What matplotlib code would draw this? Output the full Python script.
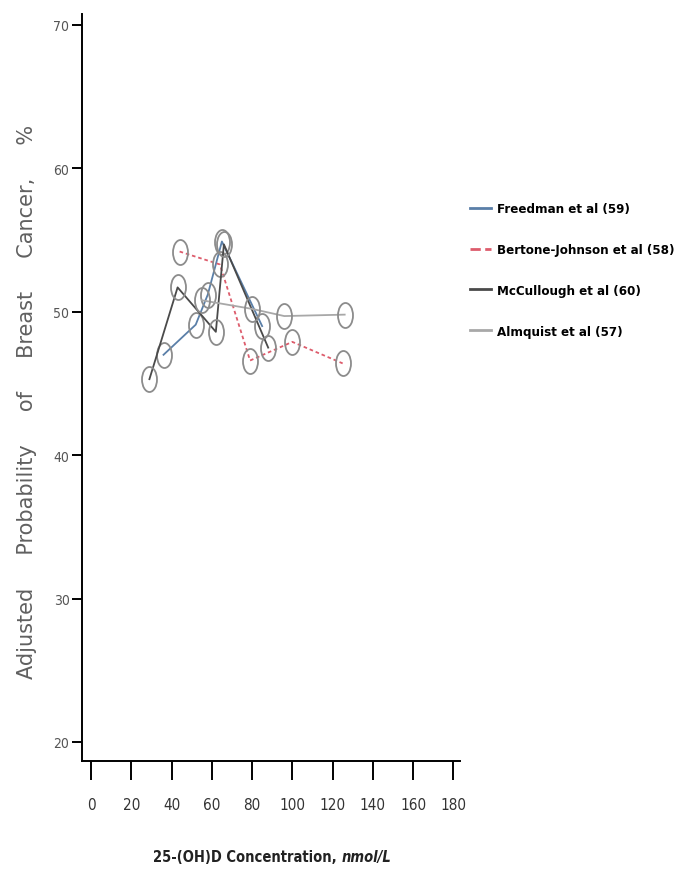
import matplotlib
matplotlib.use("Agg")
import matplotlib.pyplot as plt
from matplotlib.path import Path
from matplotlib.transforms import Affine2D
from matplotlib.offsetbox import TextArea, HPacker, AnchoredOffsetbox

plt.rcParams["font.family"] = ["DejaVu Sans"]
plt.rcParams["font.stretch"] = "condensed"

# 25-(OH)D concentration (nmol/L) and adjusted probability of breast cancer (%)
freedman_x = [36, 52, 58, 65, 85]
freedman_y = [47.0, 49.1, 51.2, 54.9, 49.0]

bertone_x = [44, 64, 79, 100, 125]
bertone_y = [54.2, 53.3, 46.6, 47.9, 46.4]

mccullough_x = [29, 43, 62, 66, 88]
mccullough_y = [45.3, 51.7, 48.6, 54.7, 47.5]

almquist_x = [55, 80, 96, 126]
almquist_y = [50.8, 50.2, 49.7, 49.8]

labels = ["Freedman et al (59)", "Bertone-Johnson et al (58)",
          "McCullough et al (60)", "Almquist et al (57)"]

x_ticks = [0, 20, 40, 60, 80, 100, 120, 140, 160, 180]
y_ticks = [20, 30, 40, 50, 60, 70]

# tall open ellipse used as the point marker
ellipse = Path.unit_circle().transformed(Affine2D().scale(0.6, 1.0))

fig = plt.figure(figsize=(6.81, 8.79), dpi=100)
ax = fig.add_axes([0.1204, 0.1331, 0.5551, 0.8499])

series = [
    (freedman_x, freedman_y, "#5a7fa8", "-"),
    (bertone_x, bertone_y, "#dd5c6c", (0, (2, 1.6))),
    (mccullough_x, mccullough_y, "#4a4a4a", "-"),
    (almquist_x, almquist_y, "#a8a8a8", "-"),
]
handles = []
for (xs, ys, col, ls), lab in zip(series, labels):
    h, = ax.plot(xs, ys, color=col, linestyle=ls, linewidth=1.3, label=lab,
                 marker=ellipse, markersize=18, markerfacecolor="none",
                 markeredgecolor="#8c8c8c", markeredgewidth=1.3)
    handles.append(h)

ax.set_xlim(-4.5, 183.3)
ax.set_ylim(18.67, 70.77)
ax.set_xticks(x_ticks)
ax.set_yticks(y_ticks)
ax.spines["top"].set_visible(False)
ax.spines["right"].set_visible(False)
ax.spines["left"].set_linewidth(1.4)
ax.spines["bottom"].set_linewidth(1.4)
ax.tick_params(axis="y", length=7, width=1.4, labelsize=10, labelcolor="#555555", pad=2)
ax.tick_params(axis="x", length=14, width=1.4, labelsize=11, labelcolor="#333333", pad=12)

ax.set_ylabel("Adjusted     Probability     of     Breast     Cancer,     %",
              fontsize=15, color="#606060", fontstretch="normal")
ax.yaxis.set_label_coords(-0.118, 0.482)

# x-axis title with the unit in italics
t1 = TextArea("25-(OH)D Concentration, ",
              textprops=dict(fontsize=10.5, fontweight="bold", color="#222222"))
t2 = TextArea("nmol/L",
              textprops=dict(fontsize=10.5, fontweight="bold", fontstyle="italic",
                             color="#222222"))
box = HPacker(children=[t1, t2], align="baseline", pad=0, sep=0)
anchored = AnchoredOffsetbox(loc="center", child=box, frameon=False,
                             bbox_to_anchor=(272 / 681, 1 - 858 / 879),
                             bbox_transform=fig.transFigure, borderpad=0)
fig.add_artist(anchored)

leg_lines = [plt.Line2D([], [], color=h.get_color(), linestyle=h.get_linestyle(),
                        linewidth=2) for h in handles]
fig.legend(leg_lines, labels, loc="upper left", bbox_to_anchor=(0.672, 0.782),
           frameon=False, handlelength=1.6, handletextpad=0.5,
           labelspacing=2.1, prop=dict(weight="bold", size=9.5))

fig.savefig("out.png", dpi=100)
